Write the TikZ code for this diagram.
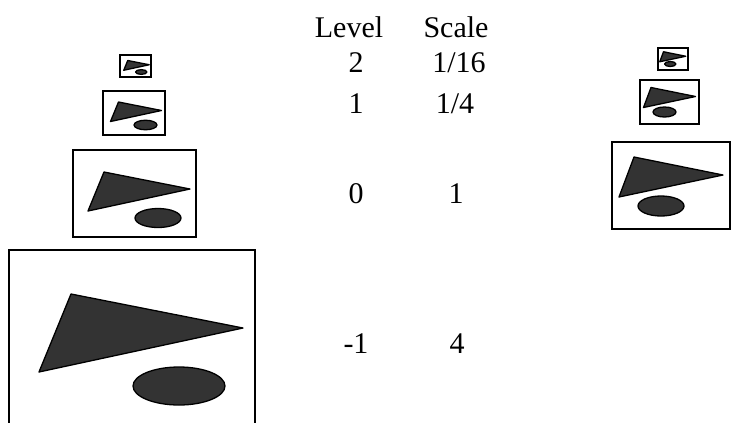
\documentclass[tikz,border=0pt]{standalone}
\usepackage{fontspec}
\setmainfont{Liberation Serif}
\begin{document}
\begin{tikzpicture}[x=1pt,y=-1pt,
  frame/.style={draw=black,line width=2pt,fill=white},
  blob/.style={draw=black,line width=1.3pt,fill=black!80,line join=round},
  lbl/.style={font=\fontsize{30}{33}\selectfont,anchor=base,inner sep=0pt},
  % image with layout A: box 123 x 87 at unit scale
  pics/imgA/.style={code={
    \draw[frame] (0,0) rectangle (123,87);
    \fill[blob] (31,22) -- (117,39) -- (15,61) -- cycle;
    \fill[blob] (85,68) ellipse [x radius=23, y radius=9.5];
  }},
  % image with layout B: box 118 x 87 at unit scale
  pics/imgB/.style={code={
    \draw[frame] (0,0) rectangle (118,87);
    \fill[blob] (22,15) -- (111,33) -- (7,55) -- cycle;
    \fill[blob] (49,64) ellipse [x radius=23, y radius=10];
  }}]
\useasboundingbox (0,0) rectangle (731,424);

% left pyramid
\pic[scale=0.25] (l2) at (120,55) {imgA};
\pic[scale=0.5]  (l1) at (103,91) {imgA};
\pic[scale=1]    (l0) at (73,150) {imgA};
\begin{scope}
  % the largest image runs past the bottom of the page
  \clip (0,0) rectangle (731,422.5);
  \pic[scale=2] (lm) at (9,250) {imgA};
\end{scope}

% right pyramid
\pic[scale=0.25] (r2) at (658,48) {imgB};
\pic[scale=0.5]  (r1) at (640,80) {imgB};
\pic[scale=1]    (r0) at (612,142) {imgB};

% table of levels and scales
\node[lbl] (hlev) at (349,37) {Level};
\node[lbl] (hsca) at (456,37) {Scale};
\node[lbl] (lv2) at (356,72) {2};
\node[lbl] (sc2) at (459,72) {1/16};
\node[lbl] (lv1) at (356,113) {1};
\node[lbl] (sc1) at (455,113) {1/4};
\node[lbl] (lv0) at (356,203) {0};
\node[lbl] (sc0) at (456,203) {1};
\node[lbl] (lvm) at (356,353) {-1};
\node[lbl] (scm) at (457,353) {4};
\end{tikzpicture}
\end{document}
